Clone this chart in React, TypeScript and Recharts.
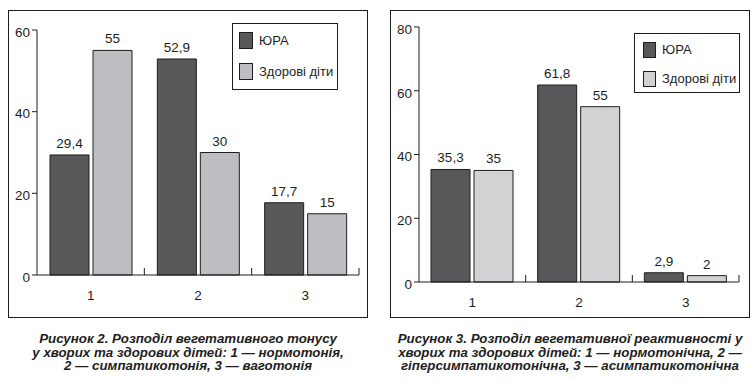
import React from 'react';
import { BarChart, Bar, XAxis, YAxis, Legend, LabelList } from 'recharts';

const categories = ['1', '2', '3'];
const seriesNames = ['ЮРА', 'Здорові діти'];

// Рисунок 2 — вегетативний тонус
const toneJura = [29.4, 52.9, 17.7];
const toneHealthy = [55, 30, 15];
const toneTicks = [0, 20, 40, 60];

// Рисунок 3 — вегетативна реактивність
const reactJura = [35.3, 61.8, 2.9];
const reactHealthy = [35, 55, 2];
const reactTicks = [0, 20, 40, 60, 80];

const captionTone = [
  'Рисунок 2. Розподіл вегетативного тонусу',
  'у хворих та здорових дітей: 1 — нормотонія,',
  '2 — симпатикотонія, 3 — ваготонія',
];
const captionReact = [
  'Рисунок 3. Розподіл вегетативної реактивності у',
  'хворих та здорових дітей: 1 — нормотонічна, 2 —',
  'гіперсимпатикотонічна, 3 — асимпатикотонічна',
];

const FONT = '"Liberation Sans", Arial, sans-serif';
const INK = '#1e1e1e';
const DARK = '#58585a';
const Y_W = 30;
const X_H = 30;
const TXT = 13.5;

const toRows = (a: number[], b: number[]) =>
  categories.map((c, i) => ({ name: c, jura: a[i], healthy: b[i] }));

const fmt = (v: any) => String(v).replace('.', ',');

interface LegendBox {
  left: number;
  top: number;
  width: number;
  height: number;
  swW: number;
  swH: number;
  swX: number;
  swY: number[];
}

function makeLegend(box: LegendBox, light: string) {
  const colors = [DARK, light];
  return () => (
    <div
      style={{
        position: 'relative',
        width: box.width,
        height: box.height,
        border: `1px solid ${INK}`,
        boxSizing: 'border-box',
        background: '#fff',
        fontFamily: FONT,
        fontSize: 13,
        color: INK,
      }}
    >
      {seriesNames.map((n, i) => (
        <React.Fragment key={n}>
          <div
            style={{
              position: 'absolute',
              left: box.swX,
              top: box.swY[i],
              width: box.swW,
              height: box.swH,
              background: colors[i],
              border: `1px solid ${INK}`,
              boxSizing: 'border-box',
            }}
          />
          <div
            style={{
              position: 'absolute',
              left: box.swX + box.swW + 6,
              top: box.swY[i] + box.swH / 2 - 8,
              lineHeight: '16px',
              whiteSpace: 'nowrap',
            }}
          >
            {n}
          </div>
        </React.Fragment>
      ))}
    </div>
  );
}

function makeTick(band: number) {
  return (props: any) => {
    const { x, y, payload } = props;
    const bx = x + band / 2;
    return (
      <g>
        <line x1={bx} y1={y} x2={bx} y2={y - 7} stroke={INK} strokeWidth={1} />
        <text
          x={x}
          y={y + 20}
          textAnchor="middle"
          dominantBaseline="central"
          fontSize={TXT}
          fontFamily={FONT}
          fill={INK}
        >
          {payload.value}
        </text>
      </g>
    );
  };
}

interface PanelProps {
  left: number;
  a: number[];
  b: number[];
  ticks: number[];
  light: string;
  plot: { top: number; right: number; bottom: number; left: number };
  legend: LegendBox;
  caption: string[];
  frameLeft: number;
}

function Panel({ left, a, b, ticks, light, plot, legend, caption, frameLeft }: PanelProps) {
  const width = 377;
  const height = 320;
  const band = (width - plot.left - plot.right) / categories.length;
  const margin = {
    top: plot.top,
    right: plot.right,
    bottom: plot.bottom - X_H,
    left: plot.left - Y_W,
  };
  return (
    <>
      <div
        style={{
          position: 'absolute',
          left: frameLeft,
          top: 10,
          width: 360,
          height: 308,
          border: `1px solid ${INK}`,
          boxSizing: 'border-box',
        }}
      />
      <div style={{ position: 'absolute', left, top: 0 }}>
        <BarChart
          width={width}
          height={height}
          data={toRows(a, b)}
          margin={margin}
          barSize={39}
          barGap={4}
        >
          <XAxis
            dataKey="name"
            height={X_H}
            tickLine={false}
            tickSize={0}
            tickMargin={0}
            axisLine={{ stroke: INK }}
            tick={makeTick(band)}
            interval={0}
          />
          <YAxis
            width={Y_W}
            domain={[0, ticks[ticks.length - 1]]}
            ticks={ticks}
            interval={0}
            tickSize={5}
            tickMargin={2}
            axisLine={{ stroke: INK }}
            tickLine={{ stroke: INK }}
            tick={{ fontSize: TXT, fontFamily: FONT, fill: INK, dy: 2 }}
          />
          <Legend
            layout="vertical"
            align="center"
            verticalAlign="middle"
            content={makeLegend(legend, light)}
            wrapperStyle={{
              left: legend.left,
              top: legend.top,
              width: legend.width,
              height: legend.height,
            }}
          />
          <Bar dataKey="jura" name={seriesNames[0]} fill={DARK} stroke={INK} strokeWidth={1} isAnimationActive={false}>
            <LabelList dataKey="jura" position="top" offset={7} formatter={fmt} fontSize={TXT} fontFamily={FONT} fill={INK} />
          </Bar>
          <Bar dataKey="healthy" name={seriesNames[1]} fill={light} stroke={INK} strokeWidth={1} isAnimationActive={false}>
            <LabelList dataKey="healthy" position="top" offset={7} formatter={fmt} fontSize={TXT} fontFamily={FONT} fill={INK} />
          </Bar>
        </BarChart>
      </div>
      <div
        style={{
          position: 'absolute',
          left: frameLeft,
          top: 332,
          width: 360,
          textAlign: 'center',
          fontFamily: FONT,
          fontWeight: 'bold',
          fontStyle: 'italic',
          fontSize: 13.3,
          lineHeight: '13.5px',
          color: INK,
          whiteSpace: 'nowrap',
        }}
      >
        {caption.map((l) => (
          <div key={l}>{l}</div>
        ))}
      </div>
    </>
  );
}

export default function App() {
  return (
    <div
      style={{
        position: 'fixed',
        left: 0,
        top: 0,
        width: 754,
        height: 380,
        background: '#fff',
        overflow: 'hidden',
      }}
    >
      <Panel
        left={0}
        frameLeft={8}
        a={toneJura}
        b={toneHealthy}
        ticks={toneTicks}
        light="#bebec2"
        plot={{ top: 30, right: 18, bottom: 45, left: 37 }}
        legend={{ left: 232, top: 23, width: 106, height: 67, swW: 14, swH: 17, swX: 6, swY: [8, 39] }}
        caption={captionTone}
      />
      <Panel
        left={377}
        frameLeft={390}
        a={reactJura}
        b={reactHealthy}
        ticks={reactTicks}
        light="#d2d2d4"
        plot={{ top: 27, right: 15, bottom: 38, left: 42 }}
        legend={{ left: 257, top: 33, width: 106, height: 60, swW: 13, swH: 16, swX: 8, swY: [8, 37] }}
        caption={captionReact}
      />
    </div>
  );
}
